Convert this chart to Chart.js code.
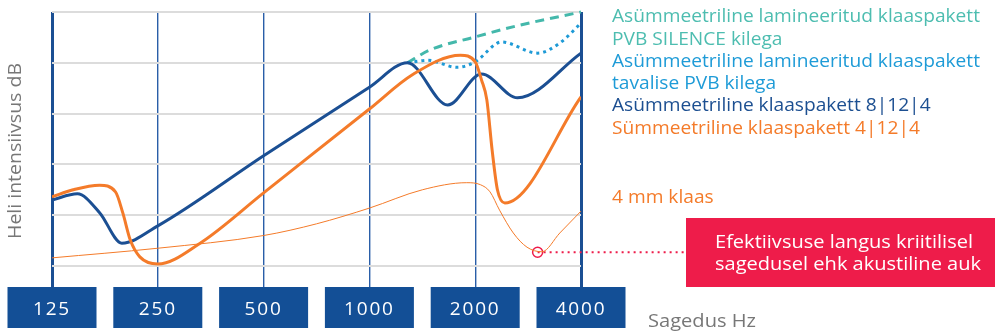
<!DOCTYPE html>
<html>
<head>
<meta charset="utf-8">
<script src="https://cdn.jsdelivr.net/npm/chart.js@4/dist/chart.umd.min.js"></script>
<style>
html,body{margin:0;padding:0;background:#fff;}
canvas{display:block;}
</style>
</head>
<body>
<canvas id="c" width="995" height="332"></canvas>
<script>
// Frequency tick labels (log2 positions 0..5)
const freqLabels = ['125', '250', '500', '1000', '2000', '4000'];

// Asümmeetriline klaaspakett 8|12|4 (dark blue)
const blueX = [0, 0.24, 0.45, 0.66, 1.0, 2.0, 3.0, 3.36, 3.74, 4.06, 4.40, 5.0];
const blueY = [1.30, 1.42, 1.05, 0.45, 0.79, 2.17, 3.52, 4.0, 3.17, 3.78, 3.31, 4.19];

// Sümmeetriline klaaspakett 4|12|4 (thick orange)
const orangeX = [0, 0.2, 0.45, 0.6, 0.67, 0.74, 0.83, 1.0, 1.4, 2.0, 3.0, 3.41, 3.86, 4.0, 4.06, 4.11, 4.16, 4.21, 4.28, 5.0];
const orangeY = [1.36, 1.5, 1.59, 1.46, 1.04, 0.51, 0.18, 0.04, 0.45, 1.44, 3.09, 3.77, 4.15, 4.02, 3.66, 3.27, 2.28, 1.5, 1.24, 3.33];

// 4 mm klaas (thin orange)
const thinX = [0, 1, 2, 2.5, 3, 3.5, 3.92, 4.05, 4.14, 4.23, 4.36, 4.49, 4.63, 4.8, 5.0];
const thinY = [0.16, 0.35, 0.6, 0.83, 1.14, 1.5, 1.64, 1.6, 1.46, 1.1, 0.65, 0.37, 0.28, 0.65, 1.08];

// Asümmeetriline lamineeritud klaaspakett PVB SILENCE kilega (teal dashed)
const silenceX = [3.36, 3.57, 4.0, 4.42, 5.0];
const silenceY = [4.0, 4.25, 4.51, 4.74, 5.0];

// Asümmeetriline lamineeritud klaaspakett tavalise PVB kilega (light blue dotted)
const pvbX = [3.36, 3.55, 3.83, 4.0, 4.25, 4.59, 4.8, 5.0];
const pvbY = [4.0, 4.05, 3.91, 4.02, 4.41, 4.19, 4.39, 4.78];

// Acoustic hole marker and connector to the note box
const holeX = [4.59, 5.99];
const holeY = [0.27, 0.27];

const legendLines = [
  ['Asümmeetriline lamineeritud klaaspakett', '#4dbdb0', 17],
  ['PVB SILENCE kilega', '#4dbdb0', 40],
  ['Asümmeetriline lamineeritud klaaspakett', '#1e9bd7', 62],
  ['tavalise PVB kilega', '#1e9bd7', 84],
  ['Asümmeetriline klaaspakett 8|12|4', '#1c4f91', 106],
  ['Sümmeetriline klaaspakett 4|12|4', '#f47b2a', 129],
  ['4 mm klaas', '#f47b2a', 198]
];
const noteLines = ['Efektiivsuse langus kriitilisel', 'sagedusel ehk akustiline auk'];
const yTitle = 'Heli intensiivsus dB';
const xTitle = 'Sagedus Hz';

const FONT = '"Open Sans", sans-serif';
const pts = (xs, ys) => xs.map((x, i) => ({x, y: ys[i]}));

// draw text stretched to a target width (keeps glyph height)
function fitText(ctx, t, x, y, w) {
  const m = ctx.measureText(t).width;
  ctx.save();
  ctx.translate(x, y);
  ctx.scale(w / m, 1);
  ctx.fillText(t, 0, 0);
  ctx.restore();
}

const decor = {
  id: 'decor',
  beforeDraw(chart) {
    chart.ctx.letterSpacing = '1.8px';
  },
  beforeDatasetsDraw(chart) {
    const ctx = chart.ctx;
    const xs = chart.scales.x;
    ctx.save();
    ctx.fillStyle = '#134f96';
    for (let i = 0; i < freqLabels.length; i++) {
      const px = xs.getPixelForValue(i);
      ctx.fillRect(px - 44.5, 287, 89, 41);
    }
    ctx.fillStyle = '#ee1c4a';
    ctx.fillRect(686, 218, 309, 69);
    ctx.restore();
  },
  afterDraw(chart) {
    const ctx = chart.ctx;
    ctx.save();
    ctx.letterSpacing = '0px';
    ctx.textBaseline = 'middle';
    ctx.textAlign = 'left';
    ctx.font = '17.5px ' + FONT;
    const base = ctx.measureText(legendLines[0][0]).width;
    const k = 368 / base;
    legendLines.forEach(([t, c, y]) => {
      ctx.fillStyle = c;
      fitText(ctx, t, 612, y, ctx.measureText(t).width * k);
    });
    ctx.fillStyle = '#ffffff';
    ctx.font = '17.5px ' + FONT;
    const nk = 258 / ctx.measureText(noteLines[0]).width;
    noteLines.forEach((t, i) => fitText(ctx, t, 715, 243 + i * 22, ctx.measureText(t).width * nk));
    ctx.fillStyle = '#777777';
    fitText(ctx, xTitle, 648, 322, 108);
    ctx.translate(16, 151);
    ctx.rotate(-Math.PI / 2);
    ctx.font = '18px ' + FONT;
    fitText(ctx, yTitle, -88, 0, 176);
    ctx.restore();
  }
};

new Chart(document.getElementById('c'), {
  type: 'line',
  data: {
    datasets: [
      {data: pts(thinX, thinY), borderColor: '#f47b2a', borderWidth: 1, pointRadius: 0, cubicInterpolationMode: 'monotone'},
      {data: pts(orangeX, orangeY), borderColor: '#f47b2a', borderWidth: 3, pointRadius: 0, cubicInterpolationMode: 'monotone'},
      {data: pts(blueX, blueY), borderColor: '#1b4f93', borderWidth: 3, pointRadius: 0, cubicInterpolationMode: 'monotone'},
      {data: pts(pvbX, pvbY), borderColor: '#1e9ad6', borderWidth: 3, borderDash: [3, 4], pointRadius: 0, cubicInterpolationMode: 'monotone', clip: false},
      {data: pts(silenceX, silenceY), borderColor: '#44b8ab', borderWidth: 3, borderDash: [9, 6], pointRadius: 0, cubicInterpolationMode: 'monotone', clip: false},
      {data: pts(holeX, holeY), borderColor: '#ee1c4a', borderWidth: 2, borderDash: [2, 4], tension: 0,
       pointRadius: [5, 0], pointBorderColor: '#ee1c4a', pointBackgroundColor: 'rgba(255,255,255,0)', pointBorderWidth: 1.5, clip: false}
    ]
  },
  options: {
    responsive: false,
    devicePixelRatio: 1,
    animation: false,
    layout: {padding: {top: 12, right: 414, left: 0, bottom: 0}},
    plugins: {legend: {display: false}, tooltip: {enabled: false}},
    scales: {
      x: {
        type: 'linear', min: 0, max: 5,
        afterFit: s => { s.height = 66; },
        afterBuildTicks: s => { s.ticks = freqLabels.map((_, i) => ({value: i})); },
        border: {display: false},
        grid: {
          color: c => (c.index === 0 || c.index === 5) ? '#1b4f93' : '#2a5ea8',
          lineWidth: c => (c.index === 0 || c.index === 5) ? 3 : 1.4,
          drawTicks: true, tickLength: 22
        },
        ticks: {
          z: 1, color: '#ffffff', padding: 10, maxRotation: 0, autoSkip: false,
          font: {size: 19, family: FONT},
          callback: (v) => freqLabels[v]
        }
      },
      y: {
        min: 0, max: 5,
        afterFit: s => { s.width = 52; },
        border: {display: false},
        grid: {color: '#dcdcdc', lineWidth: 2, drawTicks: false},
        ticks: {display: false, stepSize: 1}
      }
    }
  },
  plugins: [decor]
});
</script>
</body>
</html>
